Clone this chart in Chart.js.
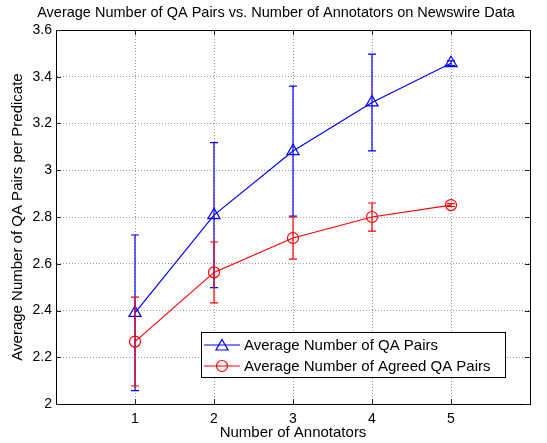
<!DOCTYPE html>
<html><head><meta charset="utf-8">
<script src="https://cdn.jsdelivr.net/npm/chart.js@4.4.1/dist/chart.umd.min.js"></script>
<style>html,body{margin:0;padding:0;background:#fff}#wrap{width:547px;height:443px}</style>
</head><body><div id="wrap"><canvas id="c" width="547" height="443"></canvas></div>
<script>
const chartTitle = 'Average Number of QA Pairs vs. Number of Annotators on Newswire Data';
const xTitle = 'Number of Annotators';
const yTitle = 'Average Number of QA Pairs per Predicate';
const annotators = [1, 2, 3, 4, 5];
const qaPairs = [2.39, 2.808, 3.082, 3.29, 3.458];
const qaPairsErr = [0.333, 0.31, 0.278, 0.207, 0.01];
const agreedPairs = [2.267, 2.563, 2.71, 2.80, 2.851];
const agreedPairsErr = [0.19, 0.13, 0.09, 0.06, 0.006];
const xTicks = [1, 2, 3, 4, 5];
const yTicks = [2, 2.2, 2.4, 2.6, 2.8, 3, 3.2, 3.4, 3.6];
const seriesLabels = ['Average Number of QA Pairs', 'Average Number of Agreed QA Pairs'];

const FONT = "'Liberation Sans', Arial, Helvetica, sans-serif";

const errorBarPlugin = {
  id: 'errorBars',
  afterDatasetsDraw(chart) {
    const ctx = chart.ctx, xs = chart.scales.x, ys = chart.scales.y;
    chart.data.datasets.forEach(ds => {
      if (!ds.errors) return;
      ctx.save();
      ctx.strokeStyle = ds.borderColor;
      ctx.lineWidth = 1.2;
      ds.data.forEach((p, i) => {
        const e = ds.errors[i];
        const px = xs.getPixelForValue(p.x);
        const y1 = ys.getPixelForValue(p.y + e), y2 = ys.getPixelForValue(p.y - e);
        ctx.beginPath();
        ctx.moveTo(px, y1); ctx.lineTo(px, y2);
        ctx.moveTo(px - 4, y1); ctx.lineTo(px + 4, y1);
        ctx.moveTo(px - 4, y2); ctx.lineTo(px + 4, y2);
        ctx.stroke();
      });
      ctx.restore();
    });
  }
};

function drawMarker(ctx, style, x, y, r, color) {
  ctx.save();
  ctx.strokeStyle = color; ctx.lineWidth = 1.2;
  ctx.beginPath();
  if (style === 'triangle') {
    const a = Math.PI * 2 / 3;
    ctx.moveTo(x, y - r);
    ctx.lineTo(x + Math.sin(a) * r, y - Math.cos(a) * r);
    ctx.lineTo(x + Math.sin(2 * a) * r, y - Math.cos(2 * a) * r);
    ctx.closePath();
  } else {
    ctx.arc(x, y, r, 0, Math.PI * 2);
  }
  ctx.stroke();
  ctx.restore();
}

const framePlugin = {
  id: 'frame',
  afterDraw(chart) {
    const ctx = chart.ctx, a = chart.chartArea, xs = chart.scales.x, ys = chart.scales.y;
    ctx.save();
    ctx.strokeStyle = '#000'; ctx.lineWidth = 1;
    ctx.strokeRect(Math.round(a.left) + 0.5, Math.round(a.top) + 0.5, Math.round(a.right - a.left), Math.round(a.bottom - a.top));
    ctx.strokeStyle = '#222';
    ctx.beginPath();
    xTicks.forEach(v => {
      const px = Math.round(xs.getPixelForValue(v)) + 0.5;
      ctx.moveTo(px, a.bottom); ctx.lineTo(px, a.bottom - 5);
      ctx.moveTo(px, a.top); ctx.lineTo(px, a.top + 5);
    });
    yTicks.forEach(v => {
      const py = Math.round(ys.getPixelForValue(v)) + 0.5;
      ctx.moveTo(a.left, py); ctx.lineTo(a.left + 5, py);
      ctx.moveTo(a.right, py); ctx.lineTo(a.right - 5, py);
    });
    ctx.stroke();
    ctx.fillStyle = '#000';
    ctx.font = '14.5px ' + FONT;
    ctx.textAlign = 'center'; ctx.textBaseline = 'middle';
    ctx.fillText(chartTitle, 276, 13);
    const lx = 201, ly = 332, lw = 304, lh = 45;
    ctx.fillStyle = '#fff';
    ctx.fillRect(lx, ly, lw, lh);
    ctx.strokeStyle = '#000'; ctx.lineWidth = 1;
    ctx.strokeRect(lx + 0.5, ly + 0.5, lw, lh);
    chart.data.datasets.forEach((ds, i) => {
      const y = 345 + i * 21;
      ctx.strokeStyle = ds.borderColor; ctx.lineWidth = 1.2;
      ctx.beginPath(); ctx.moveTo(204, y); ctx.lineTo(240, y); ctx.stroke();
      drawMarker(ctx, ds.pointStyle, 222, ds.pointStyle === 'triangle' ? y + 1.5 : y, ds.pointRadius, ds.borderColor);
      ctx.fillStyle = '#000';
      ctx.font = '15px ' + FONT;
      ctx.textAlign = 'left'; ctx.textBaseline = 'middle';
      ctx.fillText(ds.label, 244, y + 1);
    });
    ctx.restore();
  }
};

new Chart(document.getElementById('c'), {
  type: 'scatter',
  data: {
    datasets: [
      {
        label: seriesLabels[0],
        data: annotators.map((x, i) => ({ x, y: qaPairs[i] })),
        errors: qaPairsErr,
        showLine: true,
        borderColor: '#0000ff',
        backgroundColor: 'rgba(0,0,0,0)',
        borderWidth: 1.2,
        pointStyle: 'triangle',
        pointRadius: 7,
        pointBorderWidth: 1.2,
        pointBackgroundColor: 'rgba(0,0,0,0)',
        tension: 0
      },
      {
        label: seriesLabels[1],
        data: annotators.map((x, i) => ({ x, y: agreedPairs[i] })),
        errors: agreedPairsErr,
        showLine: true,
        borderColor: '#ff0000',
        backgroundColor: 'rgba(0,0,0,0)',
        borderWidth: 1.2,
        pointStyle: 'circle',
        pointRadius: 5.5,
        pointBorderWidth: 1.2,
        pointBackgroundColor: 'rgba(0,0,0,0)',
        tension: 0
      }
    ]
  },
  options: {
    responsive: false,
    animation: false,
    devicePixelRatio: 1,
    layout: { padding: { top: 30, right: 17, left: 0, bottom: 0 } },
    plugins: { legend: { display: false }, title: { display: false }, tooltip: { enabled: false } },
    scales: {
      x: {
        type: 'linear', min: 0, max: 6,
        afterBuildTicks: s => { s.ticks = xTicks.map(v => ({ value: v })); },
        afterFit: s => { s.height = 39; },
        grid: { color: '#9a9a9a', lineWidth: 1, drawTicks: false },
        border: { color: '#000', width: 1, dash: [1, 2] },
        ticks: { color: '#000', font: { family: FONT, size: 14 }, padding: 7, maxRotation: 0, callback: v => String(v) },
        title: { display: true, text: xTitle, color: '#000', font: { family: FONT, size: 15 }, padding: { top: 0, bottom: 1 } }
      },
      y: {
        type: 'linear', min: 2, max: 3.6,
        afterBuildTicks: s => { s.ticks = yTicks.map(v => ({ value: v })); },
        afterFit: s => { s.width = 56; },
        grid: { color: '#9a9a9a', lineWidth: 1, drawTicks: false },
        border: { color: '#000', width: 1, dash: [1, 2] },
        ticks: { color: '#000', font: { family: FONT, size: 14 }, padding: 4, callback: v => String(Math.round(v * 10) / 10) },
        title: { display: true, text: yTitle, color: '#000', font: { family: FONT, size: 15 }, padding: { top: 8.5, bottom: 0 } }
      }
    }
  },
  plugins: [errorBarPlugin, framePlugin]
});
</script>
</body></html>
